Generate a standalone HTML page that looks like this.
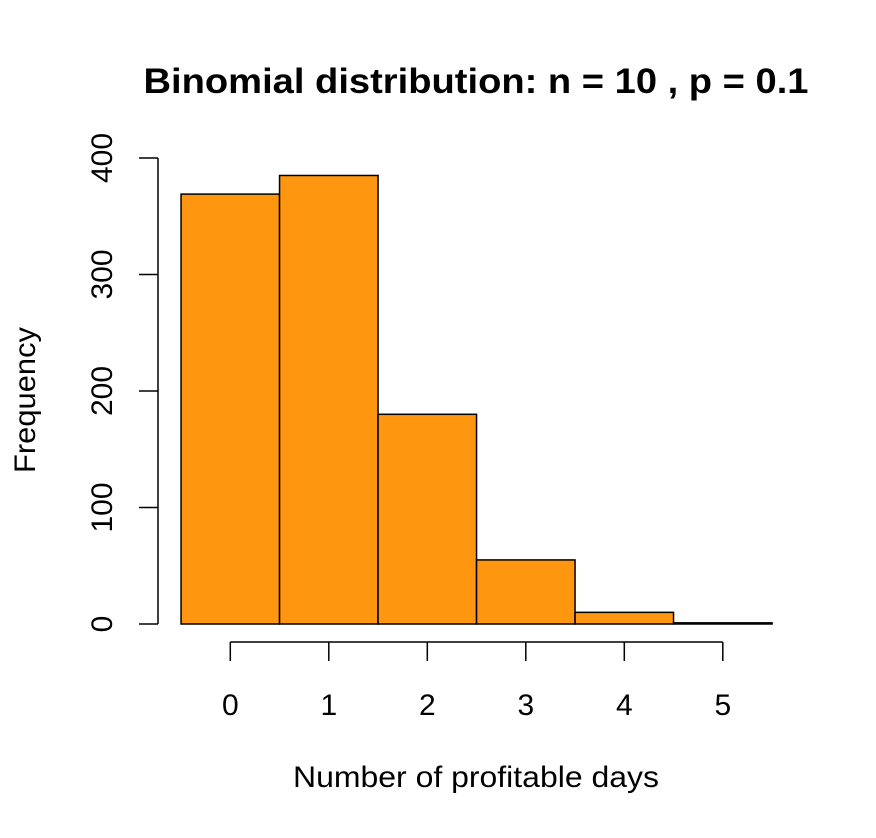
<!DOCTYPE html>
<html><head><meta charset="utf-8"><style>body{margin:0;background:#fff}svg{display:block}</style></head>
<body>
<svg id="chart" width="876" height="838" xmlns="http://www.w3.org/2000/svg" font-family="Liberation Sans, Arial, sans-serif">
<text x="476" y="93" text-anchor="middle" font-size="35" font-weight="bold" textLength="665" lengthAdjust="spacingAndGlyphs">Binomial distribution: n = 10 , p = 0.1</text>
<text x="476" y="787" text-anchor="middle" font-size="30" textLength="366" lengthAdjust="spacingAndGlyphs">Number of profitable days</text>
<text transform="translate(35,400) rotate(-90)" text-anchor="middle" font-size="30" textLength="146" lengthAdjust="spacingAndGlyphs">Frequency</text>
<g id="bars"></g><g id="axes"></g>
</svg>
<script>
const categories = [0, 1, 2, 3, 4, 5];
const counts = [369, 385, 180, 55, 10, 1];
const yTicks = [0, 100, 200, 300, 400];
const xTicks = [0, 1, 2, 3, 4, 5];
const NS = "http://www.w3.org/2000/svg";
const xs = v => 230.3 + 98.5 * v;
const ys = v => 624 - 1.165 * v;
function mk(tag, attrs, parent) { const e = document.createElementNS(NS, tag); for (const k in attrs) e.setAttribute(k, attrs[k]); parent.appendChild(e); return e; }
const bars = document.getElementById('bars'), axes = document.getElementById('axes');
categories.forEach((c, i) => {
  const x0 = xs(c - 0.5), x1 = xs(c + 0.5), y = ys(counts[i]);
  const r = mk('rect', {x: x0, y: y, width: x1 - x0, height: ys(0) - y, fill: '#ff960f', stroke: '#000', 'stroke-width': 1.5}, bars);
  
  
});
const yl = mk('line', {x1: 158, x2: 158, y1: ys(yTicks[0]), y2: ys(yTicks[yTicks.length-1]), stroke: '#000', 'stroke-width': 1.5}, axes);


yTicks.forEach(t => {
  mk('line', {x1: 139, x2: 158, y1: ys(t), y2: ys(t), stroke: '#000', 'stroke-width': 1.5}, axes);
  const tx = mk('text', {transform: `translate(112,${ys(t)}) rotate(-90)`, 'text-anchor': 'middle', 'font-size': 30}, axes);
  tx.textContent = t;
  
  
});
const xl = mk('line', {x1: xs(xTicks[0]), x2: xs(xTicks[xTicks.length-1]), y1: 642, y2: 642, stroke: '#000', 'stroke-width': 1.5}, axes);


xTicks.forEach(t => {
  mk('line', {x1: xs(t), x2: xs(t), y1: 642, y2: 661, stroke: '#000', 'stroke-width': 1.5}, axes);
  const tx = mk('text', {x: xs(t), y: 715, 'text-anchor': 'middle', 'font-size': 30}, axes);
  tx.textContent = t;
  
  
});
</script>
</body></html>
